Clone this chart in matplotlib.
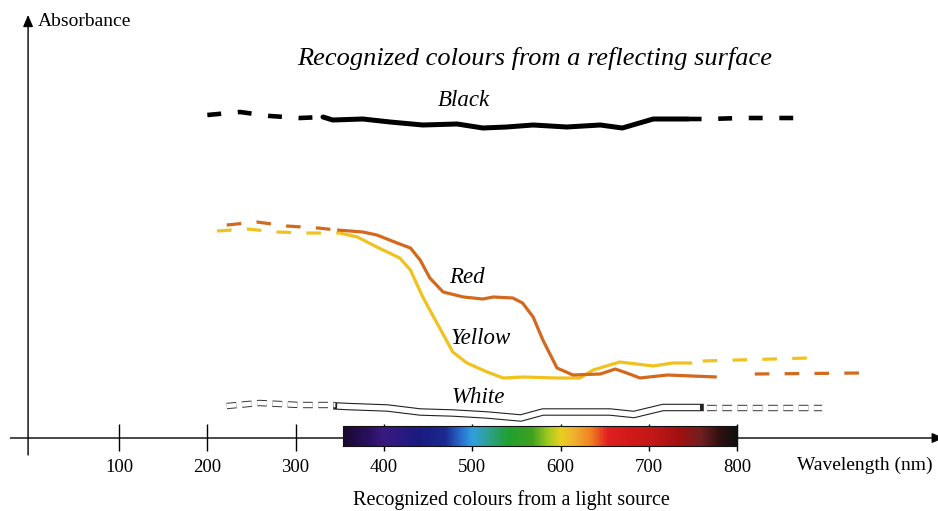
import numpy as np
import matplotlib
matplotlib.use("Agg")
import matplotlib.pyplot as plt
from matplotlib.colors import LinearSegmentedColormap

plt.rcParams['lines.scale_dashes'] = False
SERIF = ['Liberation Serif', 'DejaVu Serif']

# ---------------- data (wavelength nm, absorbance) ----------------
black_dash_l_x = [200, 237, 271, 305, 331]
black_dash_l_y = [0.8075, 0.815, 0.805, 0.800, 0.8025]
black_x = [331, 342, 376, 407, 444, 483, 512, 539, 569, 607, 645, 670, 705, 744]
black_y = [0.8025, 0.795, 0.7975, 0.790, 0.7825, 0.785, 0.775, 0.7775, 0.7825,
           0.7775, 0.7825, 0.775, 0.7975, 0.7975]
black_dash_r_x = [744, 769, 803, 837, 873]
black_dash_r_y = [0.7975, 0.7975, 0.800, 0.800, 0.800]

red_dash_l_x = [222, 256, 290, 325, 347]
red_dash_l_y = [0.5325, 0.540, 0.530, 0.525, 0.520]
red_x = [347, 376, 392, 415, 430, 441, 452, 467, 490, 512, 524, 546, 557, 569,
         580, 596, 614, 645, 662, 675, 690, 721, 777]
red_y = [0.520, 0.515, 0.5075, 0.4875, 0.475, 0.445, 0.400, 0.365, 0.3525, 0.3475,
         0.3525, 0.350, 0.3375, 0.3025, 0.245, 0.175, 0.1575, 0.160, 0.1725, 0.1625,
         0.150, 0.1575, 0.1525]
red_dash_r_x = [820, 939]
red_dash_r_y = [0.160, 0.1625]

yellow_dash_l_x = [211, 245, 279, 313, 350]
yellow_dash_l_y = [0.5175, 0.5225, 0.515, 0.5125, 0.5125]
yellow_x = [350, 370, 392, 418, 430, 444, 460, 478, 494, 517, 535, 558, 596, 622,
            637, 667, 705, 727, 749]
yellow_y = [0.5125, 0.5025, 0.4775, 0.450, 0.420, 0.3525, 0.2875, 0.215, 0.1875,
            0.165, 0.150, 0.1525, 0.150, 0.150, 0.170, 0.190, 0.180, 0.1875, 0.1875]
yellow_dash_r_x = [761, 880]
yellow_dash_r_y = [0.1925, 0.200]

white_dash_l_x = [222, 259, 305, 345]
white_dash_l_y = [0.080, 0.0875, 0.0825, 0.0825]
white_x = [347, 358, 404, 441, 478, 517, 555, 580, 619, 656, 683, 716, 758]
white_y = [0.080, 0.07875, 0.075, 0.065, 0.0625, 0.0575, 0.050, 0.065, 0.065,
           0.065, 0.05875, 0.07625, 0.07625]
white_dash_r_x = [766, 896]
white_dash_r_y = [0.07625, 0.07625]

tick_values = [100, 200, 300, 400, 500, 600, 700, 800]
tick_labels = ['100', '200', '300', '400', '500', '600', '700', '800']

spectrum_nm = [354, 382, 399, 439, 469, 488, 500, 515, 541, 568, 586, 601, 616,
               635, 654, 684, 707, 737, 760, 782, 800]
spectrum_colors = ['#1a0a30', '#2a1060', '#3a1a80', '#1a1a80', '#1a2a90', '#2a70d0',
                   '#30a0e0', '#30a0a0', '#20a030', '#40a020', '#a0c820', '#e8d020',
                   '#f0b030', '#f08020', '#e02020', '#d01818', '#c01818', '#a01010',
                   '#702020', '#301010', '#101010']

RED = '#d2691c'
YELLOW = '#f0c21e'

# ---------------- figure ----------------
W, H = 938, 511
fig = plt.figure(figsize=(W / 100, H / 100), dpi=100)
ax = fig.add_axes([0, 0, 1, 1])
ax.set_xlim(-34.8, 1027.5)
ax.set_ylim(-0.1825, 1.095)
ax.axis('off')

# axes lines
ax.annotate('', xy=(1034, 0), xytext=(-23, 0), annotation_clip=False,
            arrowprops=dict(arrowstyle='-|>,head_length=0.7,head_width=0.3',
                            color='black', lw=1.0, shrinkA=0, shrinkB=0), zorder=1)
ax.annotate('', xy=(-3, 1.0575), xytext=(-3, -0.0425), annotation_clip=False,
            arrowprops=dict(arrowstyle='-|>,head_length=0.7,head_width=0.3',
                            color='black', lw=1.0, shrinkA=0, shrinkB=0), zorder=1)
ax.vlines(tick_values, -0.0325, 0.035, color='black', lw=1.0, zorder=1)
for v, lab in zip(tick_values, tick_labels):
    ax.text(v, -0.0735, lab, ha='center', va='center', fontsize=13.5, family=SERIF)

# spectrum bar
pos = [(n - spectrum_nm[0]) / (spectrum_nm[-1] - spectrum_nm[0]) for n in spectrum_nm]
cmap = LinearSegmentedColormap.from_list('spec', list(zip(pos, spectrum_colors)))
grad = np.linspace(0, 1, 600).reshape(1, -1)
ax.imshow(grad, cmap=cmap, aspect='auto', extent=[spectrum_nm[0], spectrum_nm[-1], -0.02, 0.03],
          zorder=2, interpolation='bilinear')
ax.plot([spectrum_nm[0], spectrum_nm[-1], spectrum_nm[-1], spectrum_nm[0], spectrum_nm[0]],
        [-0.02, -0.02, 0.03, 0.03, -0.02], color='#111111', lw=0.8, zorder=2.1)

# black
dk = dict(color='black', lw=3.3, dashes=(10, 12), solid_capstyle='butt', dash_capstyle='butt')
ax.plot(black_dash_l_x, black_dash_l_y, zorder=3, **dk)
ax.plot(black_x, black_y, color='black', lw=3.6, solid_capstyle='round', solid_joinstyle='round', zorder=3)
ax.plot(black_dash_r_x, black_dash_r_y, zorder=3, **dk)

# red and yellow
for dx, dy, sx, sy, rx, ry, c in [
        (yellow_dash_l_x, yellow_dash_l_y, yellow_x, yellow_y, yellow_dash_r_x, yellow_dash_r_y, YELLOW),
        (red_dash_l_x, red_dash_l_y, red_x, red_y, red_dash_r_x, red_dash_r_y, RED)]:
    ax.plot(dx, dy, color=c, lw=2.3, dashes=(10.5, 11), dash_capstyle='butt', zorder=3)
    ax.plot(sx, sy, color=c, lw=2.3, solid_joinstyle='round', solid_capstyle='butt', zorder=3)
    ax.plot(rx, ry, color=c, lw=2.3, dashes=(10.5, 11), dash_capstyle='butt', zorder=3)

# white (outlined ribbon)
ax.plot(white_x, white_y, color='#222222', lw=5.4, solid_capstyle='projecting',
        solid_joinstyle='round', zorder=3)
ax.plot(white_x, white_y, color='white', lw=3.8, solid_capstyle='butt',
        solid_joinstyle='round', zorder=3.1)
for xs, ys in [(white_dash_l_x, white_dash_l_y), (white_dash_r_x, white_dash_r_y)]:
    ax.plot(xs, ys, color='#333333', lw=4.6, dashes=(7, 4), dash_capstyle='butt', zorder=3)
    ax.plot(xs, ys, color='white', lw=3.2, dashes=(7, 4), dash_capstyle='butt', zorder=3.1)

# texts (pixel positions)
def ftext(x, y, s, **kw):
    fig.text(x / W, 1 - y / H, s, family=SERIF, **kw)

ftext(535, 58, 'Recognized colours from a reflecting surface', fontsize=19, style='italic',
      ha='center', va='center')
ftext(38, 22, 'Absorbance', fontsize=14, ha='left', va='center')
ftext(464, 100, 'Black', fontsize=16.5, style='italic', ha='center', va='center')
ftext(467, 277, 'Red', fontsize=16.5, style='italic', ha='center', va='center')
ftext(481, 338, 'Yellow', fontsize=16.5, style='italic', ha='center', va='center')
ftext(478, 397, 'White', fontsize=16.5, style='italic', ha='center', va='center')
ftext(797, 465, 'Wavelength (nm)', fontsize=14, ha='left', va='center')
ftext(511, 500, 'Recognized colours from a light source', fontsize=14.5, ha='center', va='center')

fig.savefig('out.png', dpi=100)
